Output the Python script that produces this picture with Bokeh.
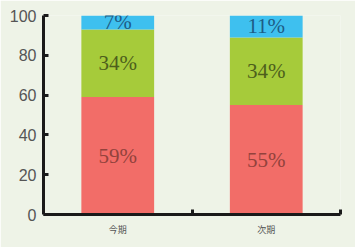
from bokeh.plotting import figure
from bokeh.models import ColumnDataSource, FixedTicker, Range1d, LinearAxis
from bokeh.core.properties import value
from bokeh.embed import file_html
from bokeh.resources import INLINE

periods = ["今期", "次期"]
red_vals = [59, 55]
green_vals = [34, 34]
blue_vals = [7, 11]
y_ticks = [0, 20, 40, 60, 80, 100]

xs = [i + 0.5 for i in range(len(periods))]
bottoms_g = [r for r in red_vals]
bottoms_b = [r + g for r, g in zip(red_vals, green_vals)]
tops_b = [r + g + b for r, g, b in zip(red_vals, green_vals, blue_vals)]

src = ColumnDataSource(dict(
    x=xs, red=red_vals, green=green_vals, blue=blue_vals,
    g0=bottoms_g, b0=bottoms_b, b1=tops_b,
    rmid=[r / 2 for r in red_vals],
    gmid=[r + g / 2 for r, g in zip(red_vals, green_vals)],
    bmid=[a + b / 2 for a, b in zip(bottoms_b, blue_vals)],
    rlab=[f"{v}%" for v in red_vals],
    glab=[f"{v}%" for v in green_vals],
    blab=[f"{v}%" for v in blue_vals],
))

bg = "#eef3e7"
p = figure(width=355, height=247, output_backend="svg", toolbar_location=None,
           x_range=Range1d(0, len(periods)), y_range=Range1d(0, 100),
           x_axis_location=None, y_axis_location=None,
           min_border_left=43, min_border_right=15, min_border_top=15, min_border_bottom=33,
           background_fill_color=bg, border_fill_color=bg, outline_line_color=None)
p.grid.visible = False

w = 0.49
p.vbar(x="x", bottom=0, top="red", width=w, source=src, color="#f26d68", line_color=None)
p.vbar(x="x", bottom="g0", top="b0", width=w, source=src, color="#a6cb3a", line_color=None)
p.vbar(x="x", bottom="b0", top="b1", width=w, source=src, color="#3ec0ef", line_color=None)

font = value("Liberation Serif")
p.text(x="x", y="rmid", text="rlab", source=src, text_align="center", text_baseline="middle",
       text_font=font, text_font_size="21px", text_color="#93423c")
p.text(x="x", y="gmid", text="glab", source=src, text_align="center", text_baseline="middle",
       text_font=font, text_font_size="21px", text_color="#4d5f1c")
p.text(x="x", y="bmid", text="blab", source=src, text_align="center", text_baseline="middle",
       text_font=font, text_font_size="21px", text_color="#1d5c86")

xax = LinearAxis(ticker=FixedTicker(ticks=xs, minor_ticks=[i + 1 for i in range(len(periods))]))
xax.major_label_overrides = {x: lab for x, lab in zip(xs, periods)}
xax.axis_line_width = 3
xax.axis_line_color = "#1a1a1a"
xax.major_tick_in = 0
xax.major_tick_out = 0
xax.minor_tick_in = 5
xax.minor_tick_out = 0
xax.minor_tick_line_width = 3
xax.minor_tick_line_color = "#1a1a1a"
xax.major_label_standoff = 8
xax.major_label_text_font = "Noto Sans CJK JP"
xax.major_label_text_font_size = "9px"
xax.major_label_text_color = "#555555"
p.add_layout(xax, "below")

yax = LinearAxis(ticker=FixedTicker(ticks=y_ticks, minor_ticks=[]))
yax.axis_line_width = 3
yax.axis_line_color = "#1a1a1a"
yax.major_tick_in = 5
yax.major_tick_out = 0
yax.major_tick_line_width = 3
yax.major_tick_line_color = "#1a1a1a"
yax.major_label_standoff = 7
yax.major_label_text_font = "Liberation Sans"
yax.major_label_text_font_size = "16px"
yax.major_label_text_color = "#555555"
p.add_layout(yax, "left")

open("out.html", "w").write(file_html(p, INLINE))
